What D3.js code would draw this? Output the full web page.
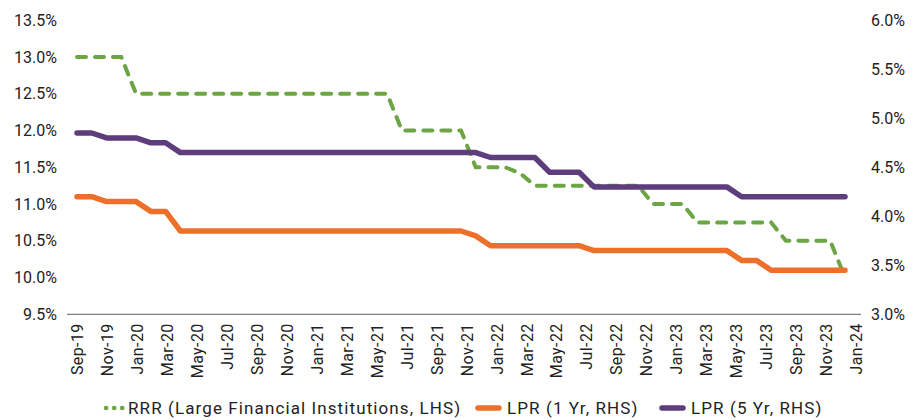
<!DOCTYPE html>
<html lang="en">
<head>
  <meta charset="UTF-8">
  <title>RRR and LPR</title>
  <style>
    body { margin: 0; background: #fff; }
    svg text { font-family: Roboto, "Liberation Sans", Arial, sans-serif; fill: #222; }
  </style>
</head>
<body>
  <div id="chart"></div>

  <script src="https://d3js.org/d3.v7.min.js"></script>
  <script>
    const SVGWIDTH = 922;
    const SVGHEIGHT = 420;

    const months = [
      'Sep-19','Oct-19','Nov-19','Dec-19',
      'Jan-20','Feb-20','Mar-20','Apr-20','May-20','Jun-20','Jul-20','Aug-20','Sep-20','Oct-20','Nov-20','Dec-20',
      'Jan-21','Feb-21','Mar-21','Apr-21','May-21','Jun-21','Jul-21','Aug-21','Sep-21','Oct-21','Nov-21','Dec-21',
      'Jan-22','Feb-22','Mar-22','Apr-22','May-22','Jun-22','Jul-22','Aug-22','Sep-22','Oct-22','Nov-22','Dec-22',
      'Jan-23','Feb-23','Mar-23','Apr-23','May-23','Jun-23','Jul-23','Aug-23','Sep-23','Oct-23','Nov-23','Dec-23',
      'Jan-24'
    ];

    // reserve requirement ratio, large institutions (LHS)
    const rrr = [
      13.0, 13.0, 13.0, 13.0,
      12.5, 12.5, 12.5, 12.5, 12.5, 12.5, 12.5, 12.5, 12.5, 12.5, 12.5, 12.5,
      12.5, 12.5, 12.5, 12.5, 12.5, 12.5, 12.0, 12.0, 12.0, 12.0, 12.0, 11.5,
      11.5, 11.5, 11.42, 11.25, 11.25, 11.25, 11.25, 11.25, 11.25, 11.25, 11.25, 11.0,
      11.0, 11.0, 10.75, 10.75, 10.75, 10.75, 10.75, 10.75, 10.5, 10.5, 10.5, 10.5,
      10.0
    ];

    // loan prime rates (RHS)
    const lpr1y = [
      4.20, 4.20, 4.15, 4.15,
      4.15, 4.05, 4.05, 3.85, 3.85, 3.85, 3.85, 3.85, 3.85, 3.85, 3.85, 3.85,
      3.85, 3.85, 3.85, 3.85, 3.85, 3.85, 3.85, 3.85, 3.85, 3.85, 3.85, 3.80,
      3.70, 3.70, 3.70, 3.70, 3.70, 3.70, 3.70, 3.65, 3.65, 3.65, 3.65, 3.65,
      3.65, 3.65, 3.65, 3.65, 3.65, 3.55, 3.55, 3.45, 3.45, 3.45, 3.45, 3.45,
      3.45
    ];

    const lpr5y = [
      4.85, 4.85, 4.80, 4.80,
      4.80, 4.75, 4.75, 4.65, 4.65, 4.65, 4.65, 4.65, 4.65, 4.65, 4.65, 4.65,
      4.65, 4.65, 4.65, 4.65, 4.65, 4.65, 4.65, 4.65, 4.65, 4.65, 4.65, 4.65,
      4.60, 4.60, 4.60, 4.60, 4.45, 4.45, 4.45, 4.30, 4.30, 4.30, 4.30, 4.30,
      4.30, 4.30, 4.30, 4.30, 4.30, 4.20, 4.20, 4.20, 4.20, 4.20, 4.20, 4.20,
      4.20
    ];

    const leftTicks = [9.5, 10.0, 10.5, 11.0, 11.5, 12.0, 12.5, 13.0, 13.5];
    const rightTicks = [3.0, 3.5, 4.0, 4.5, 5.0, 5.5, 6.0];
    const xLabels = months.filter((d, i) => i % 2 === 0);

    const legendItems = ['RRR (Large Financial Institutions, LHS)', 'LPR (1 Yr, RHS)', 'LPR (5 Yr, RHS)'];

    const plot = {left: 67, right: 861, top: 20.3, bottom: 314.3};
    const colors = {rrr: '#6ba544', lpr1: '#ec7029', lpr5: '#5e3d7c'};

    const svg = d3.select('#chart')
      .append('svg')
      .attr('width', SVGWIDTH)
      .attr('height', SVGHEIGHT);

    // series points sit a little inside the category label grid in the source
    const xData = d3.scalePoint().domain(months).range([77, 845]);
    const xAxisScale = d3.scalePoint().domain(months).range([77, 856]);

    const yLeft = d3.scaleLinear().domain([9.5, 13.5]).range([plot.bottom, plot.top]);
    const yRight = d3.scaleLinear().domain([3.0, 6.0]).range([plot.bottom, plot.top]);

    // axes
    const leftAxis = d3.axisLeft(yLeft).tickValues(leftTicks).tickSize(0).tickPadding(10)
      .tickFormat(d => d.toFixed(1) + '%');
    const rightAxis = d3.axisRight(yRight).tickValues(rightTicks).tickSize(0).tickPadding(10)
      .tickFormat(d => d.toFixed(1) + '%');
    const bottomAxis = d3.axisBottom(xAxisScale).tickValues(xLabels).tickSize(0);

    const gl = svg.append('g').attr('transform', `translate(${plot.left},0)`).call(leftAxis);
    const gr = svg.append('g').attr('transform', `translate(${plot.right},0)`).call(rightAxis);
    [gl, gr].forEach(g => {
      g.select('.domain').remove();
      g.selectAll('text').style('font-size', '16px');
    });

    const gb = svg.append('g').attr('transform', `translate(0,${plot.bottom})`).call(bottomAxis);
    gb.select('.domain').remove();
    gb.selectAll('text')
      .style('font-size', '16px')
      .style('letter-spacing', '0.4px')
      .style('text-anchor', 'end')
      .attr('x', -9)
      .attr('y', 0)
      .attr('dy', '0.35em')
      .attr('transform', 'rotate(-90)');

    svg.append('line')
      .attr('x1', plot.left).attr('x2', plot.right)
      .attr('y1', plot.bottom).attr('y2', plot.bottom)
      .attr('stroke', '#808080')
      .attr('stroke-width', 1.2);

    // lines
    const lineL = d3.line().x((d, i) => xData(months[i])).y(d => yLeft(d));
    const lineR = d3.line().x((d, i) => xData(months[i])).y(d => yRight(d));

    svg.append('path')
      .datum(rrr)
      .attr('d', lineL)
      .attr('fill', 'none')
      .attr('stroke', colors.rrr)
      .attr('stroke-width', 4)
      .attr('stroke-dasharray', '9 9')
      .attr('stroke-linecap', 'round');

    svg.append('path')
      .datum(lpr1y)
      .attr('d', lineR)
      .attr('fill', 'none')
      .attr('stroke', colors.lpr1)
      .attr('stroke-width', 5.5)
      .attr('stroke-linejoin', 'round')
      .attr('stroke-linecap', 'round');

    svg.append('path')
      .datum(lpr5y)
      .attr('d', lineR)
      .attr('fill', 'none')
      .attr('stroke', colors.lpr5)
      .attr('stroke-width', 5.5)
      .attr('stroke-linejoin', 'round')
      .attr('stroke-linecap', 'round');

    // legend
    const legendX = [104, 475, 659];
    const legendY = 408;
    const legend = svg.append('g');
    legendItems.forEach((name, i) => {
      const g = legend.append('g').attr('transform', `translate(${legendX[i]},${legendY})`);
      if (i === 0) {
        g.append('line')
          .attr('x1', 2).attr('x2', 20).attr('y1', 0).attr('y2', 0)
          .attr('stroke', colors.rrr)
          .attr('stroke-width', 4.5)
          .attr('stroke-linecap', 'round')
          .attr('stroke-dasharray', '0.1 8');
      } else {
        g.append('line')
          .attr('x1', 3).attr('x2', 24).attr('y1', 0).attr('y2', 0)
          .attr('stroke', i === 1 ? colors.lpr1 : colors.lpr5)
          .attr('stroke-width', 5.5)
          .attr('stroke-linecap', 'round');
      }
      g.append('text')
        .attr('x', i === 0 ? 24 : 32)
        .attr('dy', '0.35em')
        .style('font-size', '17px')
        .style('letter-spacing', '1.1px')
        .text(name);
    });
  </script>
</body>
</html>
